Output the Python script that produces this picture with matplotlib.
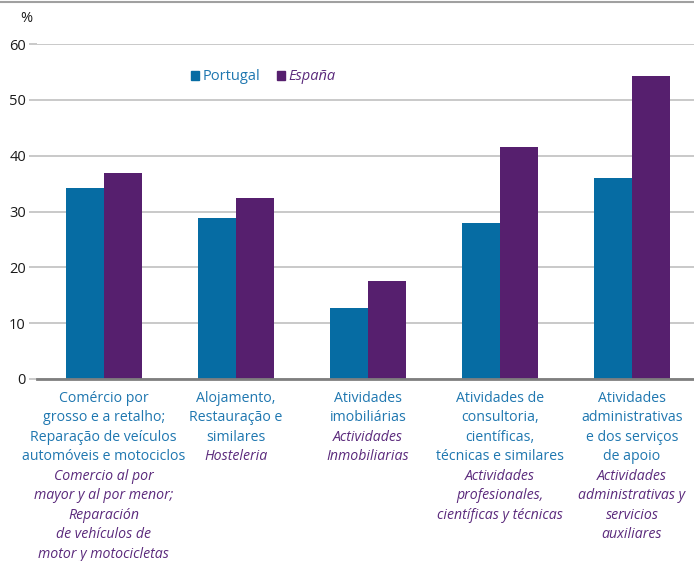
import numpy as np
import matplotlib.pyplot as plt
from matplotlib.lines import Line2D
from matplotlib.patches import Patch

plt.rcParams['font.family'] = ['Open Sans', 'DejaVu Sans']

portugal = [34.2, 28.8, 12.7, 27.9, 36.0]
espana = [36.9, 32.4, 17.6, 41.6, 54.3]
pt_labels = [
    'Comércio por\ngrosso e a retalho;\nReparação de veículos\nautomóveis e motociclos',
    'Alojamento,\nRestauração e\nsimilares',
    'Atividades\nimobiliárias',
    'Atividades de\nconsultoria,\ncientíficas,\ntécnicas e similares',
    'Atividades\nadministrativas\ne dos serviços\nde apoio',
]
es_labels = [
    'Comercio al por\nmayor y al por menor;\nReparación\nde vehículos de\nmotor y motocicletas',
    'Hosteleria',
    'Actividades\nInmobiliarias',
    'Actividades\nprofesionales,\ncientíficas y técnicas',
    'Actividades\nadministrativas y\nservicios\nauxiliares',
]
yticks = [0, 10, 20, 30, 40, 50, 60]

c_pt = '#066ca3'
c_es = '#561f6e'
t_pt = '#1f77b0'
t_es = '#5b2a7c'

fig = plt.figure(figsize=(6.94, 5.61), dpi=100)
ax = fig.add_axes([37 / 694, 1 - 379 / 561, 1 - 37 / 694, (379 - 44) / 561])

x = np.arange(len(portugal))
w = 0.288
ax.bar(x - w / 2, portugal, w, color=c_pt, zorder=3)
ax.bar(x + w / 2, espana, w, color=c_es, zorder=3)

ax.set_xlim(-0.506, 4.47)
ax.set_ylim(0, 60)
ax.set_yticks(yticks)
ax.set_xticks([])
ax.yaxis.grid(True, color='#c0c0c0', linewidth=1.2, zorder=0)
for s in ['top', 'right', 'left']:
    ax.spines[s].set_visible(False)
ax.spines['bottom'].set_color('#7f7f7f')
ax.spines['bottom'].set_linewidth(2)
ax.spines['bottom'].set_zorder(4)
ax.tick_params(axis='y', length=6, color='#c0c0c0', width=1.2, labelsize=10.5, pad=2, labelcolor='#1a1a1a')

fig.text(20 / 694, 1 - 18 / 561, '%', fontsize=10.5, ha='left', va='center', color='#1a1a1a')
fig.add_artist(Line2D([0, 1], [1 - 1.5 / 561, 1 - 1.5 / 561], color='#a0a0a0', linewidth=1.5))

handles = [Patch(color=c_pt), Patch(color=c_es)]
leg = ax.legend(handles, ['Portugal', 'España'], loc='center', bbox_to_anchor=((263 - 37) / 657, 1 - (77 - 44) / 335),
                ncol=2, frameon=False, handlelength=0.6, handleheight=0.6, handletextpad=0.2, columnspacing=1.15,
                fontsize=10.5)
txts = leg.get_texts()
txts[0].set_color(t_pt)
txts[1].set_color(t_es)
txts[1].set_style('italic')

pitch = 14.0
for i in range(len(portugal)):
    lines = [(l, t_pt, 'normal') for l in pt_labels[i].split('\n')]
    lines += [(l, t_es, 'italic') for l in es_labels[i].split('\n')]
    for j, (l, col, st) in enumerate(lines):
        ax.annotate(l, xy=(x[i], 0), xycoords=('data', 'axes fraction'),
                    xytext=(0, -14 - j * pitch), textcoords='offset points',
                    ha='center', va='center', fontsize=10.2, color=col, style=st,
                    annotation_clip=False)

fig.savefig('out.png', dpi=100)
